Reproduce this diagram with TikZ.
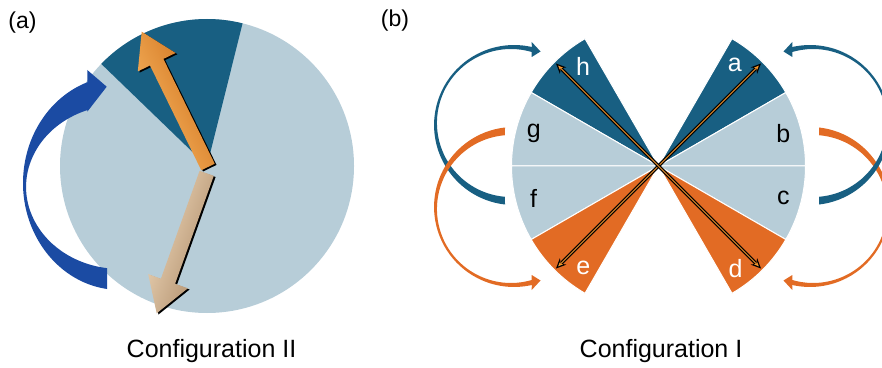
\documentclass[tikz,border=0pt]{standalone}
\usepackage{fontspec}
\setmainfont{Liberation Sans}
\usetikzlibrary{arrows.meta}
\definecolor{lightblue}{RGB}{183,205,216}
\definecolor{darkblue}{RGB}{24,95,130}
\definecolor{orng}{RGB}{226,107,36}
\definecolor{royal}{RGB}{27,75,163}
\definecolor{orlight}{RGB}{250,185,100}
\definecolor{ormid}{RGB}{242,148,45}
\definecolor{ordark}{RGB}{205,110,25}
\definecolor{tanlight}{RGB}{242,220,190}
\definecolor{tanmid}{RGB}{220,185,145}
\definecolor{tandark}{RGB}{170,135,100}
\newcommand{\myOrPath}{(201.3,196.7) -- (150,301.5) -- (137.8,295.6) -- (141.7,335.3) -- (175.6,314.0) -- (163.4,308.1) -- (214.7,203.3) -- cycle}
\newcommand{\myTanPath}{(213.8,191.2) -- (175.1,83.3) -- (187.8,78.7) -- (156.7,53.7) -- (148.2,92.9) -- (160.9,88.3) -- (199.6,196.2) -- cycle}
\begin{document}
\begin{tikzpicture}[x=1pt,y=1pt,
  lbl/.style={font=\fontsize{25}{30}\selectfont, inner sep=0pt},
  plbl/.style={font=\fontsize{23}{28}\selectfont, inner sep=0pt},
  sectlight/.style={fill=lightblue, draw=white, line width=1pt},
  sectdark/.style={fill=darkblue, draw=white, line width=1pt},
  sector/.style={fill=orng, draw=white, line width=1pt},
  blkarr/.style={line width=3.2pt, black, {Stealth[length=10pt,width=9pt]}-{Stealth[length=10pt,width=9pt]}},
  orarr/.style={line width=0.9pt, ormid, {Stealth[length=5pt,width=4pt]}-{Stealth[length=5pt,width=4pt]}, shorten >=3pt, shorten <=3pt},
  curvarr/.pic={\fill (-126.8,124) -- (-118,114.5) -- (-126.8,109) -- (-126.8,114.0)
      arc[start angle=73.7, end angle=265.35, radius=74] -- (-153.5,-38.5)
      arc[start angle=263.5, end angle=77.2, radius=80] -- cycle;}
]
\useasboundingbox (0,0) rectangle (882,367);
\clip (0,0) rectangle (882,367);

% ---------- panel (a)
\coordinate (ca) at (207,201);
\fill[lightblue] (ca) circle[radius=147];
\fill[darkblue] (ca) -- ++(76:147) arc[start angle=76,end angle=136,radius=147] -- cycle;
\fill[royal] (87.3,297) -- (106.7,280.3) -- (87.3,255.3) -- (87.3,256.9)
  arc[start angle=110.4, end angle=262.1, x radius=94, y radius=82] -- (107.0,78.0)
  arc[start angle=262.3, end angle=109.7, x radius=97, y radius=107] -- cycle;
% tan arrow
\fill[black, shift={(1.8,-1.2)}] \myTanPath;
\shade[top color=tandark, middle color=tanmid, bottom color=tanlight, shading angle=250.3] \myTanPath;
% orange arrow
\fill[black, shift={(1.8,-1.2)}] \myOrPath;
\shade[top color=orlight, middle color=ormid, bottom color=ordark, shading angle=116.1] \myOrPath;

\node[plbl] (la) at (22.5,344.5) {(a)};
\node[lbl, anchor=base] (cfg2) at (211.5,10) {Configuration II};

% ---------- panel (b)
\coordinate (cb) at (658.5,201);
\pic[darkblue] at (cb) {curvarr};
\pic[orng, yscale=-1] at (cb) {curvarr};
\pic[orng, xscale=-1, yscale=-1] at (665.5,201) {curvarr};
\pic[darkblue, xscale=-1] at (665.5,201) {curvarr};

\path[sectdark]  (cb) -- ++(30:147) arc[start angle=30,end angle=60,radius=147] -- cycle;
\path[sectlight] (cb) -- ++(0:147) arc[start angle=0,end angle=30,radius=147] -- cycle;
\path[sectlight] (cb) -- ++(-30:147) arc[start angle=-30,end angle=0,radius=147] -- cycle;
\path[sector]    (cb) -- ++(-60:147) arc[start angle=-60,end angle=-30,radius=147] -- cycle;
\path[sectdark]  (cb) -- ++(120:147) arc[start angle=120,end angle=150,radius=147] -- cycle;
\path[sectlight] (cb) -- ++(150:147) arc[start angle=150,end angle=180,radius=147] -- cycle;
\path[sectlight] (cb) -- ++(180:147) arc[start angle=180,end angle=210,radius=147] -- cycle;
\path[sector]    (cb) -- ++(210:147) arc[start angle=210,end angle=240,radius=147] -- cycle;

\coordinate (ta) at ([shift={(45:145)}]cb);
\coordinate (te) at ([shift={(225:145)}]cb);
\coordinate (th) at ([shift={(135:145)}]cb);
\coordinate (td) at ([shift={(315:145)}]cb);
\draw[blkarr] (te) -- (ta);
\draw[orarr, shift={(135:1)}] (te) -- (ta);
\draw[blkarr] (th) -- (td);
\draw[orarr, shift={(45:1)}] (th) -- (td);

\node[lbl, white] (sa) at ([shift={(53:127)}]cb) {a};
\node[lbl] (sb) at ([shift={(14.7:129)}]cb) {b};
\node[lbl] (sc) at ([shift={(-14.5:129)}]cb) {c};
\node[lbl, white] (sd) at ([shift={(-53:128)}]cb) {d};
\node[lbl, white] (se) at ([shift={(233.7:127)}]cb) {e};
\node[lbl] (sf) at ([shift={(194.5:129)}]cb) {f};
\node[lbl] (sg) at ([shift={(165.3:129)}]cb) {g};
\node[lbl, white] (sh) at ([shift={(127.1:125)}]cb) {h};

\node[plbl] (lb) at (395,346) {(b)};
\node[lbl, anchor=base] (cfg1) at (661,10) {Configuration I};
\end{tikzpicture}
\end{document}
